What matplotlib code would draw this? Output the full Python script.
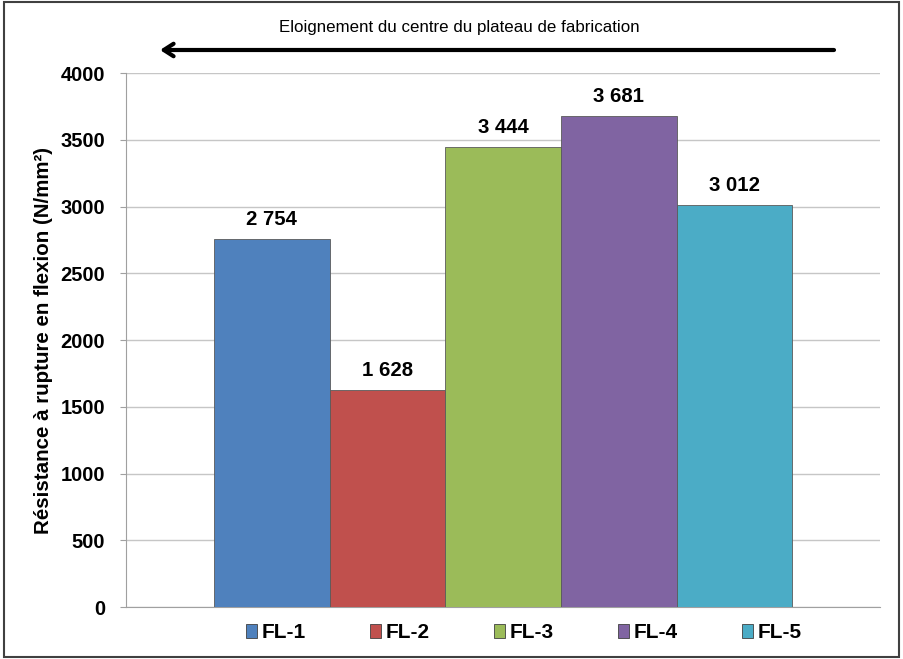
import numpy as np
import matplotlib.pyplot as plt
from matplotlib.patches import Rectangle, Patch

plt.rcParams['font.family'] = ['Liberation Sans', 'DejaVu Sans']

# Flexural strength per sample
series = ['FL-1', 'FL-2', 'FL-3', 'FL-4', 'FL-5']
values = [2754, 1628, 3444, 3681, 3012]
colors = ['#4F81BD', '#C0504D', '#9BBB59', '#8064A2', '#4BACC6']
yticks = [0, 500, 1000, 1500, 2000, 2500, 3000, 3500, 4000]

fig = plt.figure(figsize=(9.04, 6.59), dpi=100)
ax = fig.add_axes([0.1394, 0.0789, 0.8341, 0.8103])

x = np.arange(len(series))
bars = ax.bar(x, values, width=1.0, color=colors, edgecolor='#5a5a5a',
              linewidth=0.6, zorder=3)

for xi, v in zip(x, values):
    label = f'{v:,}'.replace(',', ' ')
    ax.text(xi, v + 75, label, ha='center', va='bottom',
            fontsize=14.7, fontweight='bold', color='black')

ax.set_xlim(-1.26, 5.26)
ax.set_ylim(0, 4000)
ax.set_yticks(yticks)
ax.set_yticklabels([str(t) for t in yticks], fontsize=14.5, fontweight='bold')
ax.set_xticks([])
ax.grid(axis='y', color='#c6c6c6', linewidth=1, zorder=0)
ax.tick_params(axis='y', length=4, color='#a0a0a0', pad=11)

for side in ['top', 'right']:
    ax.spines[side].set_visible(False)
ax.spines['left'].set_color('#a0a0a0')
ax.spines['bottom'].set_color('#a0a0a0')

ax.set_ylabel('Résistance à rupture en flexion (N/mm²)', fontsize=14.8,
              fontweight='bold', labelpad=5)

handles = [Patch(facecolor=c, edgecolor='#404040', linewidth=0.6) for c in colors]
leg = fig.legend(handles, series, loc='center', bbox_to_anchor=(0.5795, 0.0395),
                 ncol=5, frameon=False, handlelength=0.53, handleheight=0.62,
                 handletextpad=0.2, columnspacing=3.1,
                 prop={'size': 15, 'weight': 'bold'})

# direction arrow and caption above the plot
fig.text(0.508, 0.958, 'Eloignement du centre du plateau de fabrication',
         ha='center', va='center', fontsize=12.2)
ax.annotate('', xy=(160 / 904, 1 - 50 / 659), xytext=(834 / 904, 1 - 50 / 659),
            xycoords='figure fraction', textcoords='figure fraction',
            arrowprops=dict(arrowstyle='->,head_length=0.7,head_width=0.45',
                            lw=3, color='black', shrinkA=0, shrinkB=0))

# outer frame
fig.patches.append(Rectangle((4 / 904, 2 / 659), 895 / 904, 655 / 659,
                             transform=fig.transFigure, fill=False,
                             edgecolor='#404040', linewidth=1.5))

fig.savefig('out.png', dpi=100)
